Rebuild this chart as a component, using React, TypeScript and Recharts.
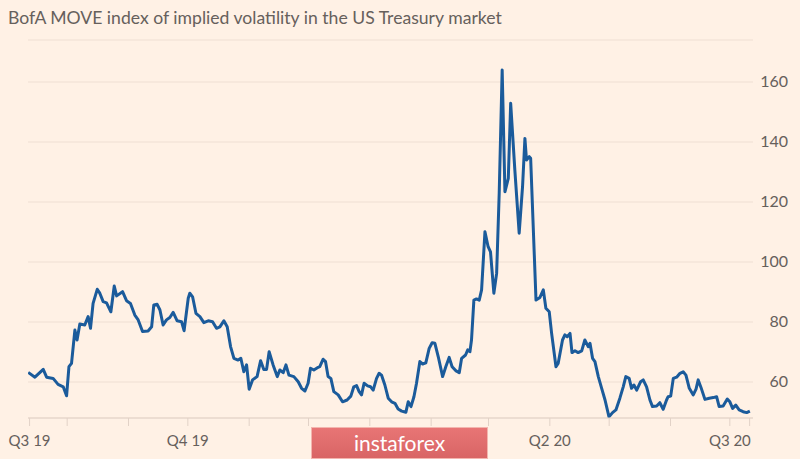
import React from 'react';
import { LineChart, Line, XAxis, YAxis, CartesianGrid } from 'recharts';

// x: days since 1 Jul 2019
const days = [
  11.3, 14.7, 18.9, 20.6, 23.9, 26.4, 29.0, 30.7, 31.9, 33.2, 34.9, 36.0, 37.4, 39.9, 41.6, 42.8, 44.1, 46.2, 47.5, 49.2,
  50.9, 53.1, 54.8, 56.0, 59.0, 61.0, 63.0, 65.2, 66.9, 69.1, 71.9, 73.7, 74.8, 76.5, 77.9, 79.5, 81.2, 82.9, 84.6, 86.6,
  88.8, 90.1, 92.2, 93.0, 94.4, 96.1, 98.1, 100.1, 102.3, 104.5, 106.5, 108.2, 110.2, 111.9, 113.6, 115.3, 117.4, 118.8, 120.3, 121.7,
  123.0, 124.7, 127.0, 128.8, 130.4, 131.8, 133.1, 135.1, 137.2, 138.5, 140.2, 141.6, 143.1, 145.6, 147.8, 149.5, 151.2, 152.8, 154.0, 155.7,
  157.9, 158.7, 160.4, 161.6, 162.9, 164.3, 165.8, 168.0, 170.2, 172.5, 174.4, 175.9, 177.3, 178.6, 179.8, 181.1, 182.9, 184.4, 185.7, 187.4,
  188.7, 189.9, 191.6, 193.3, 195.0, 196.7, 198.3, 200.1, 202.2, 203.4, 204.8, 206.3, 207.6, 209.3, 210.7, 212.3, 214.0, 215.5, 216.9, 218.6,
  220.8, 222.4, 224.1, 225.6, 227.4, 229.2, 230.4, 232.4, 233.5, 234.6, 235.4, 236.6, 237.9, 239.3, 240.5, 242.2, 243.8, 245.0, 246.7, 248.1,
  249.4, 250.9, 252.3, 254.0, 255.2, 257.3, 259.5, 261.2, 262.4, 263.2, 264.6, 265.3, 268.0, 270.0, 271.7, 273.0, 274.7, 275.9, 278.1, 279.2,
  281.4, 282.6, 283.8, 285.2, 286.2, 287.7, 289.3, 291.1, 292.7, 294.4, 295.3, 296.6, 297.8, 299.5, 301.2, 302.9, 304.9, 306.7, 308.4, 310.4,
  312.1, 313.4, 315.1, 316.3, 317.5, 318.9, 320.9, 322.2, 323.9, 325.6, 326.9, 329.0, 330.6, 332.3, 334.0, 334.8, 336.1, 337.4, 339.1, 340.8,
  342.4, 343.8, 345.5, 347.5, 348.9, 350.0, 351.4, 353.4, 355.6, 357.6, 359.3, 360.6, 362.6, 364.7, 366.0, 367.4, 369.0, 370.7, 372.7, 374.5,
  376.1,
];

const moveIndex = [
  63.2, 61.6, 64.2, 61.6, 61.2, 59.2, 58.4, 55.4, 65.1, 66.2, 77.3, 74.0, 79.3, 79.0, 81.8, 77.9, 86.2, 90.9, 89.6, 86.8,
  86.4, 83.4, 92.0, 88.7, 90.1, 87.1, 86.2, 82.3, 80.7, 76.8, 77.0, 78.4, 85.7, 85.9, 84.0, 79.0, 80.7, 81.5, 83.2, 80.4,
  80.1, 77.1, 87.9, 89.6, 88.4, 82.9, 81.8, 79.8, 80.4, 80.1, 77.9, 78.4, 80.4, 78.4, 71.8, 67.9, 67.3, 67.9, 63.4, 65.7,
  57.6, 60.7, 61.8, 67.1, 64.2, 64.2, 70.1, 65.7, 61.8, 64.0, 63.1, 65.7, 62.3, 61.8, 60.1, 57.9, 57.0, 59.6, 64.6, 64.0,
  64.9, 65.1, 67.6, 66.8, 61.8, 61.2, 56.8, 55.7, 53.4, 54.0, 55.3, 58.4, 58.8, 56.8, 55.7, 59.6, 58.7, 58.4, 57.3, 61.2,
  62.9, 62.3, 59.0, 54.6, 53.4, 52.9, 51.0, 50.3, 49.9, 53.4, 51.8, 55.1, 59.6, 66.8, 66.0, 66.4, 71.2, 73.1, 72.9, 68.4,
  61.8, 65.1, 68.2, 65.1, 63.8, 63.1, 67.9, 69.0, 70.7, 70.1, 74.0, 87.3, 87.7, 87.3, 90.7, 110.1, 105.1, 103.4, 89.6, 96.2,
  122.9, 164.0, 123.4, 127.9, 152.9, 130.7, 109.6, 125.1, 141.2, 134.0, 135.1, 134.6, 87.3, 88.2, 90.7, 84.6, 83.4, 76.2, 65.1, 66.2,
  74.0, 75.7, 75.1, 76.2, 69.8, 70.4, 69.8, 70.4, 74.0, 71.8, 72.9, 67.9, 66.8, 61.8, 57.9, 54.0, 48.4, 49.8, 50.7, 54.6,
  58.4, 61.8, 61.2, 57.9, 59.0, 57.3, 60.1, 60.7, 58.4, 54.0, 51.8, 52.0, 53.1, 50.9, 54.0, 55.1, 55.3, 61.2, 61.6, 62.9,
  63.4, 62.3, 57.9, 55.7, 57.6, 60.7, 58.2, 54.2, 54.6, 54.8, 55.1, 51.8, 52.0, 54.3, 53.4, 51.2, 52.3, 50.7, 50.1, 49.8,
  50.3,
];

// month-start ticks (days since 1 Jul 2019), plus the first and last data days
const xTicks = [12, 31, 62, 92, 123, 153, 184, 215, 244, 275, 305, 336, 366, 376];
const xTickLabels: Record<number, string> = { 12: 'Q3 19', 92: 'Q4 19', 275: 'Q2 20', 366: 'Q3 20' };
const yTicks = [60, 80, 100, 120, 140, 160];
const title = 'BofA MOVE index of implied volatility in the US Treasury market';
const watermark = 'instaforex';

const data = days.map((d, i) => ({ day: d, move: moveIndex[i] }));

const FONT = 'Lato, "Open Sans", sans-serif';
const TEXT = '#66605c';

const YTick = (props: any) => {
  const { x, y, payload } = props;
  return (
    <text x={x + 35} y={y} dy={5} textAnchor="end" fill={TEXT} fontSize={16} fontFamily={FONT}>
      {payload.value}
    </text>
  );
};

export default function App() {
  return (
    <div style={{ position: 'absolute', left: 0, top: 0, width: 800, height: 459, background: '#fff1e5', overflow: 'hidden' }}>
      <div
        style={{
          position: 'absolute', left: 8, top: 8, fontFamily: FONT, fontSize: 17.6, lineHeight: '20px', color: TEXT, whiteSpace: 'nowrap',
        }}
      >
        {title}
      </div>
      <LineChart width={800} height={459} data={data} margin={{ top: 40, right: 0, left: 28, bottom: 0 }}>
        <CartesianGrid vertical={false} stroke="#efdfd3" strokeWidth={1} />
        <XAxis
          dataKey="day"
          type="number"
          domain={[11.2, 377.7]}
          ticks={xTicks}
          interval={0}
          height={41}
          tickSize={8}
          tickMargin={9}
          axisLine={{ stroke: '#e2d2c7' }}
          tickLine={{ stroke: '#e2d2c7' }}
          tickFormatter={(v: number) => xTickLabels[v] ?? ''}
          tick={{ fill: TEXT, fontSize: 15, fontFamily: FONT }}
          allowDataOverflow
        />
        <YAxis
          orientation="right"
          type="number"
          domain={[48, 174]}
          ticks={yTicks}
          width={47}
          axisLine={false}
          tickLine={false}
          tickSize={0}
          tickMargin={0}
          tick={<YTick />}
          allowDataOverflow
        />
        <Line
          type="linear"
          dataKey="move"
          stroke="#1b5b9b"
          strokeWidth={3}
          dot={false}
          strokeLinejoin="round"
          isAnimationActive={false}
        />
      </LineChart>
      <div
        style={{
          position: 'absolute', left: 311, top: 427, width: 177, height: 32, boxSizing: 'border-box',
          background: 'linear-gradient(#e87575, #d96565)', border: '1px solid #f3b5ae', color: '#ffffff',
          fontFamily: FONT, fontSize: 21, lineHeight: '30px', textAlign: 'center',
        }}
      >
        {watermark}
      </div>
    </div>
  );
}
